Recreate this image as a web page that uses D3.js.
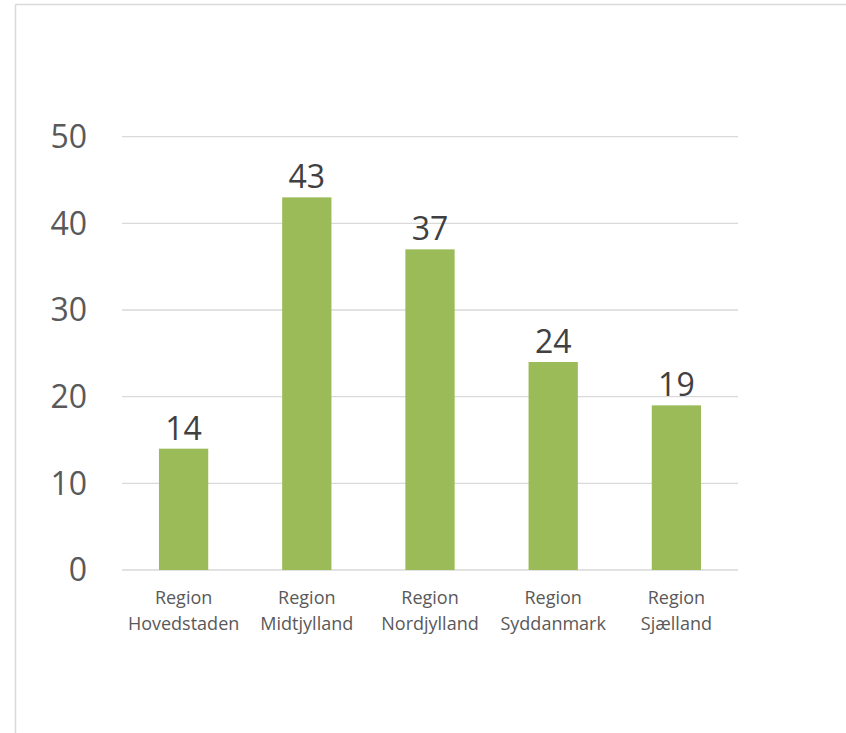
<!DOCTYPE html>
<html>
<head>
<meta charset="utf-8">
<script src="https://cdn.jsdelivr.net/npm/d3@7"></script>
<style>
  body { margin: 0; background: #fff; }
  text { font-family: "Open Sans", sans-serif; }
</style>
</head>
<body>
<div id="chart"></div>
<script>
// data
var regions = ["Region Hovedstaden", "Region Midtjylland", "Region Nordjylland", "Region Syddanmark", "Region Sjælland"];
var counts = [14, 43, 37, 24, 19];
var yTicks = [0, 10, 20, 30, 40, 50];

var W = 846, H = 733;
var plotLeft = 122, plotRight = 738, plotTop = 136.7, plotBottom = 570;

var svg = d3.select("#chart").append("svg")
    .attr("width", W)
    .attr("height", H);

// frame (only left and top edges show)
svg.append("line")
    .attr("x1", 15.5).attr("x2", 15.5).attr("y1", 4.5).attr("y2", H)
    .attr("stroke", "#d9d9d9").attr("stroke-width", 1.5);
svg.append("line")
    .attr("x1", 15.5).attr("x2", W).attr("y1", 4.5).attr("y2", 4.5)
    .attr("stroke", "#d9d9d9").attr("stroke-width", 1.5);

var x = d3.scaleBand().domain(regions).range([plotLeft, plotRight]).paddingInner(0.6).paddingOuter(0.3);
var y = d3.scaleLinear().domain([0, 50]).range([plotBottom, plotTop]);

// gridlines
svg.selectAll(".grid")
    .data(yTicks)
    .enter().append("line")
    .attr("x1", plotLeft).attr("x2", plotRight)
    .attr("y1", function(d) { return y(d); })
    .attr("y2", function(d) { return y(d); })
    .attr("stroke", "#d9d9d9")
    .attr("stroke-width", 1.3);

// y labels
svg.selectAll(".ylab")
    .data(yTicks)
    .enter().append("text")
    .attr("x", 87)
    .attr("y", function(d) { return y(d) + 11.4; })
    .attr("text-anchor", "end")
    .attr("fill", "#595959")
    .style("font-size", "32px")
    .text(function(d) { return d; });

// bars
svg.selectAll(".bar")
    .data(counts)
    .enter().append("rect")
    .attr("x", function(d, i) { return x(regions[i]); })
    .attr("y", function(d) { return y(d); })
    .attr("width", x.bandwidth())
    .attr("height", function(d) { return plotBottom - y(d); })
    .attr("fill", "#9bbb59");

// value labels
svg.selectAll(".val")
    .data(counts)
    .enter().append("text")
    .attr("x", function(d, i) { return x(regions[i]) + x.bandwidth() / 2; })
    .attr("y", function(d) { return y(d) - 9; })
    .attr("text-anchor", "middle")
    .attr("fill", "#404040")
    .style("font-size", "32px")
    .text(function(d) { return d; });

// category labels on two lines
var cat = svg.selectAll(".cat")
    .data(regions)
    .enter().append("text")
    .attr("text-anchor", "middle")
    .attr("fill", "#595959")
    .style("font-size", "18px");
cat.each(function(d) {
    var parts = d.split(" ");
    var t = d3.select(this);
    var cx = x(d) + x.bandwidth() / 2;
    t.append("tspan").attr("x", cx).attr("y", 604).text(parts[0]);
    t.append("tspan").attr("x", cx).attr("y", 630).text(parts.slice(1).join(" "));
});
</script>
</body>
</html>
